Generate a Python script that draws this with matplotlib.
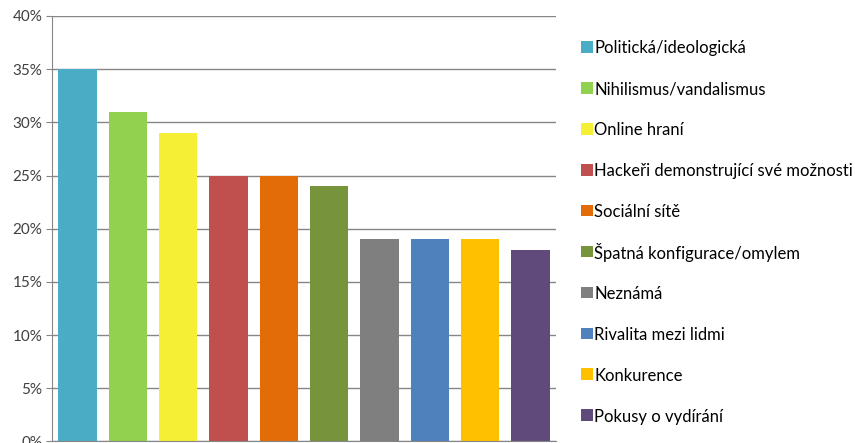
import numpy as np
import matplotlib.pyplot as plt
from matplotlib.patches import Rectangle

plt.rcParams['font.family'] = ['Lato', 'DejaVu Sans']

# motivace útoků
categories = ['Politická/ideologická', 'Nihilismus/vandalismus', 'Online hraní',
              'Hackeři demonstrující své možnosti', 'Sociální sítě',
              'Špatná konfigurace/omylem', 'Neznámá', 'Rivalita mezi lidmi',
              'Konkurence', 'Pokusy o vydírání']
values = [35, 31, 29, 25, 25, 24, 19, 19, 19, 18]
colors = ['#4BACC6', '#92D050', '#F5F035', '#C0504D', '#E36C09',
          '#77933C', '#7F7F7F', '#4F81BD', '#FFC000', '#604A7B']
y_ticks = [0, 5, 10, 15, 20, 25, 30, 35, 40]

W, H = 855, 443


def draw_legend(fig, bars):
    # legenda vpravo, řádky po stejném kroku jako v originále
    for i, bar in enumerate(bars):
        yc = 47 + i * 40.9
        fig.patches.append(Rectangle((581 / W, 1 - (yc + 5.8) / H), 11.6 / W, 11.6 / H,
                                     transform=fig.transFigure, figure=fig,
                                     facecolor=bar.get_facecolor(), edgecolor='none'))
        fig.text(594 / W, 1 - yc / H, bar.get_label(), fontsize=12,
                 va='center_baseline', ha='left', color='black')


def main():
    fig = plt.figure(figsize=(W / 100, H / 100), dpi=100)
    ax = fig.add_axes([0.0612, 0.0034, 0.5887, 0.9605])

    x = np.arange(len(values))
    bars = ax.bar(x, values, width=0.763, color=colors, zorder=2)
    for bar, label in zip(bars, categories):
        bar.set_label(label)

    ax.set_xlim(-0.5, len(values) - 0.5)
    ax.set_ylim(0, 40)
    ax.set_yticks(y_ticks)
    ax.set_yticklabels(['%d%%' % t for t in y_ticks])
    ax.set_xticks([])
    ax.yaxis.grid(True, color='#868686', linewidth=1, zorder=0)
    ax.set_axisbelow(True)
    for side in ['top', 'right']:
        ax.spines[side].set_visible(False)
    for side in ['left', 'bottom']:
        ax.spines[side].set_color('#868686')
    ax.tick_params(axis='y', colors='#868686', labelcolor='#404040',
                   labelsize=11, length=4, pad=3)

    draw_legend(fig, bars)

    fig.savefig('out.png', dpi=100)


if __name__ == '__main__':
    main()
